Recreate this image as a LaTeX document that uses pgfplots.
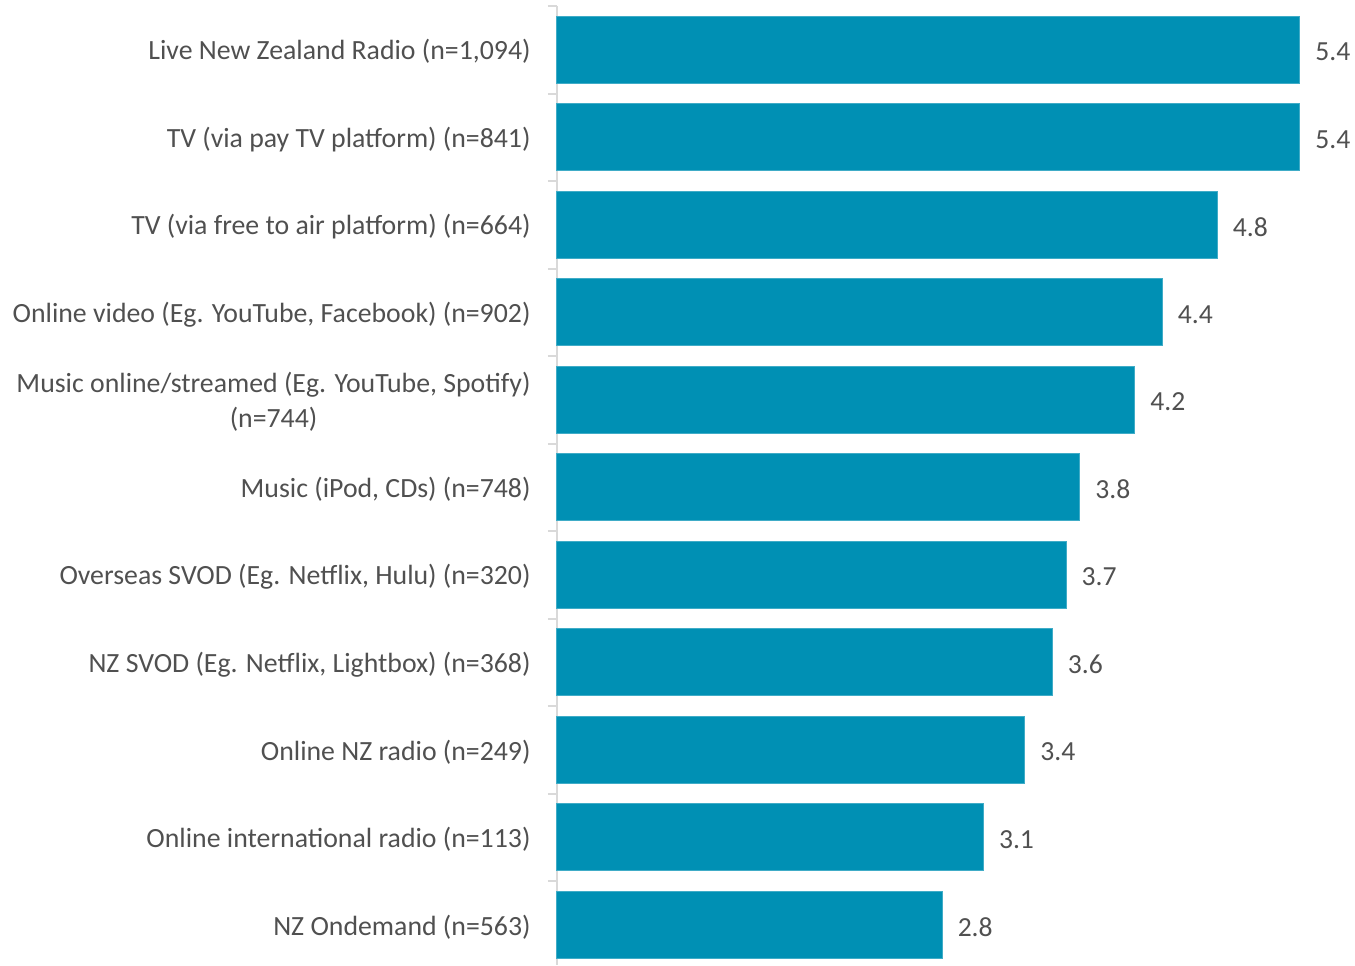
\documentclass[border=0pt]{standalone}
\usepackage{pgfplots}
\pgfplotsset{compat=1.18}
\usepackage{fontspec}
\setmainfont{Carlito}
\usetikzlibrary{calc}
\definecolor{barblue}{HTML}{0090B4}
\definecolor{txtgray}{HTML}{505050}
\definecolor{axgray}{HTML}{D9D9D9}
\begin{document}
\begin{tikzpicture}
\begin{axis}[
  scale only axis,
  width=371.5pt, height=479.5pt,
  xbar, bar width=33.5pt,
  xmin=0, xmax=5.4,
  ymin=-0.5, ymax=10.46,
  y dir=reverse,
  axis x line=none,
  axis y line*=left,
  y axis line style={axgray, line width=1pt},
  ytick={0,...,10},
  minor ytick={-0.5,0.5,...,9.5},
  major tick length=0pt,
  minor tick length=4.5pt,
  tick align=outside,
  minor tick style={axgray, line width=1pt},
  yticklabels={
    Live New Zealand Radio (n=1{,}094),
    TV (via pay TV platform) (n=841),
    TV (via free to air platform) (n=664),
    {Online video (Eg. YouTube, Facebook) (n=902)},
    {Music online/streamed (Eg. YouTube, Spotify)\\(n=744)},
    {Music (iPod, CDs) (n=748)},
    {Overseas SVOD (Eg. Netflix, Hulu) (n=320)},
    {NZ SVOD (Eg. Netflix, Lightbox) (n=368)},
    Online NZ radio (n=249),
    Online international radio (n=113),
    NZ Ondemand (n=563)},
  yticklabel style={font=\fontsize{13.9}{17}\selectfont, text=txtgray, align=center, inner sep=0pt, xshift=-13pt, yshift=-1pt},
  nodes near coords={\pgfmathprintnumber[fixed,fixed zerofill,precision=1,assume math mode=true]{\pgfplotspointmeta}},
  nodes near coords style={font=\fontsize{13.8}{16}\selectfont, text=txtgray, anchor=west, inner sep=0pt, xshift=7.5pt, yshift=-1pt},
  point meta=x,
  clip=false,
]
\addplot[fill=barblue, draw=barblue!75!white, line width=0.5pt] coordinates {
  (5.4,0) (5.4,1) (4.8,2) (4.4,3) (4.2,4) (3.8,5) (3.7,6) (3.6,7) (3.4,8) (3.1,9) (2.8,10)
};
\coordinate (tl) at (axis cs:0,-0.5);
\coordinate (bl) at (axis cs:0,10.46);
\end{axis}
\pgfresetboundingbox
\path ($(bl)+(-278.5pt,0)$) rectangle ($(tl)+(399pt,3pt)$);
\end{tikzpicture}
\end{document}
